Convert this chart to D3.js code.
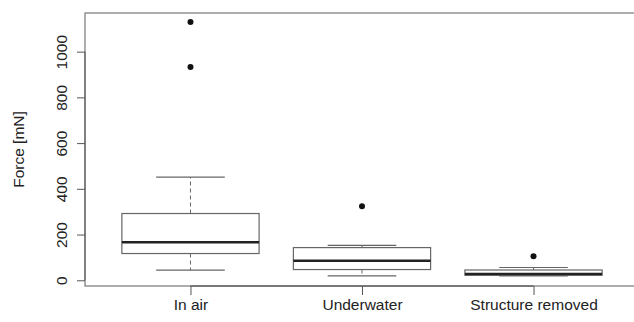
<!DOCTYPE html>
<html>
<head>
<meta charset="utf-8">
<script src="https://cdn.jsdelivr.net/npm/d3@7"></script>
<style>
  html, body { margin: 0; padding: 0; background: #fff; }
  svg { display: block; }
  text { font-family: "Liberation Sans", Arial, Helvetica, sans-serif; fill: #222; }
</style>
</head>
<body>
<svg id="chart" width="634" height="322"></svg>
<script>
// ---- data ----
const categories = ["In air", "Underwater", "Structure removed"];
const whiskerLow  = [44, 19, 19];
const quartile1   = [117, 47, 22];
const medians     = [166, 85, 28];
const quartile3   = [292, 143, 45];
const whiskerHigh = [451, 153, 56];
const outliers    = [[1130, 933], [324], [105]];
const yTicks      = [0, 200, 400, 600, 800, 1000];
const yLabel      = "Force [mN]";

// ---- layout ----
const svg = d3.select("#chart");
const plot = { left: 85, right: 639, top: 13, bottom: 286 };
const fontSize = "15.5px";

const x = d3.scaleLinear().domain([0.385, 3.615]).range([plot.left, plot.right]);
const y = d3.scaleLinear().domain([-25, 1169]).range([plot.bottom, plot.top]);
const unit = x(2) - x(1);
const boxW = 0.8 * unit;
const capW = 0.4 * unit;

const rows = categories.map((c, i) => ({
  name: c, pos: i + 1,
  lo: whiskerLow[i], q1: quartile1[i], med: medians[i], q3: quartile3[i], hi: whiskerHigh[i],
  out: outliers[i]
}));

const stroke = "#666";

// boxes
const g = svg.append("g");
rows.forEach(r => {
  const cx = x(r.pos);
  g.append("line").attr("x1", cx).attr("x2", cx).attr("y1", y(r.q3)).attr("y2", y(r.hi))
    .attr("stroke", stroke).attr("stroke-width", 1).attr("stroke-dasharray", "4,3");
  g.append("line").attr("x1", cx).attr("x2", cx).attr("y1", y(r.q1)).attr("y2", y(r.lo))
    .attr("stroke", stroke).attr("stroke-width", 1).attr("stroke-dasharray", "4,3");
  [r.lo, r.hi].forEach(v => {
    g.append("line").attr("x1", cx - capW / 2).attr("x2", cx + capW / 2)
      .attr("y1", y(v)).attr("y2", y(v)).attr("stroke", stroke).attr("stroke-width", 1.2);
  });
  g.append("rect").attr("x", cx - boxW / 2).attr("width", boxW)
    .attr("y", y(r.q3)).attr("height", y(r.q1) - y(r.q3))
    .attr("fill", "#fff").attr("stroke", stroke).attr("stroke-width", 1.2);
  g.append("line").attr("x1", cx - boxW / 2).attr("x2", cx + boxW / 2)
    .attr("y1", y(r.med)).attr("y2", y(r.med)).attr("stroke", "#222").attr("stroke-width", 2.5);
  r.out.forEach(v => {
    g.append("circle").attr("cx", cx).attr("cy", y(v)).attr("r", 3).attr("fill", "#111");
  });
});

// frame
svg.append("rect").attr("x", plot.left).attr("y", plot.top)
  .attr("width", plot.right - plot.left).attr("height", plot.bottom - plot.top)
  .attr("fill", "none").attr("stroke", "#777").attr("stroke-width", 1.2);

// y axis
const yAxis = d3.axisLeft(y).tickValues(yTicks).tickFormat(d3.format("d"))
  .tickSize(8).tickSizeOuter(0);
const ya = svg.append("g").attr("transform", `translate(${plot.left},0)`).call(yAxis);
ya.select(".domain").attr("d", `M0,${y(yTicks[0])}V${y(yTicks[yTicks.length - 1])}`).attr("stroke", "#555");
ya.selectAll(".tick line").attr("stroke", "#555");
ya.selectAll(".tick text")
  .attr("x", null).attr("dy", "0.35em")
  .attr("text-anchor", "middle")
  .attr("transform", "translate(-23,0) rotate(-90)")
  .style("font-size", fontSize).attr("fill", "#222");

// x axis
const xAxis = d3.axisBottom(x).tickValues(rows.map(r => r.pos)).tickFormat((d, i) => categories[i])
  .tickSize(9).tickPadding(4).tickSizeOuter(0);
const xa = svg.append("g").attr("transform", `translate(0,${plot.bottom})`).call(xAxis);
xa.select(".domain").attr("d", `M${x(1)},0H${x(3)}`).attr("stroke", "#444");
xa.selectAll(".tick line").attr("stroke", "#555");
xa.selectAll(".tick text").style("font-size", fontSize).attr("fill", "#222");

// y label
svg.append("text").attr("transform", `translate(19,${(plot.top + plot.bottom) / 2}) rotate(-90)`)
  .attr("text-anchor", "middle").attr("dy", "0.35em").style("font-size", fontSize).text(yLabel);
</script>
</body>
</html>
